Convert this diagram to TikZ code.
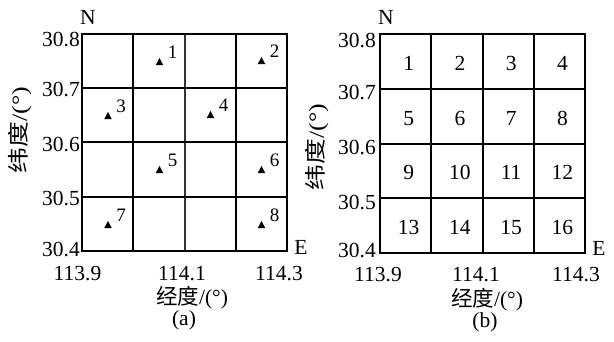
\documentclass[tikz,border=0pt]{standalone}
\usepackage{fontspec}
\setmainfont{Liberation Serif}
\newfontfamily\cjk{Noto Sans CJK SC}
\begin{document}
\begin{tikzpicture}[x=1pt,y=-1pt,
  lbl/.style={font=\fontsize{21.5}{21.5}\selectfont, inner sep=0pt},
  small/.style={font=\fontsize{19}{19}\selectfont, inner sep=0pt},
  gridline/.style={line width=2pt, line cap=rect},
  thinline/.style={line width=1.6pt, black!80},
  tri/.style={fill=black}]
\useasboundingbox (0,0) rectangle (614,341);
% ---------- panel (a) ----------
\foreach \x in {82,133,236,287}
  \draw[gridline] (\x,34) -- (\x,251);
\draw[thinline] (185,34) -- (185,251);
\foreach \y in {34,88,142,197,251}
  \draw[gridline] (82,\y) -- (287,\y);
\foreach \n/\x/\y in {1/159.5/62,2/261.5/61,3/108/116,4/210.5/115,5/159.5/170,6/261.5/170,7/108/225,8/261.5/225}{
  \fill[tri] ({\x-3.8},{\y+3.2}) -- ({\x+3.8},{\y+3.2}) -- (\x,{\y-4}) -- cycle;
  \node[small] (pa\n) at ({\x+13},{\y-10}) {\n};
}
\foreach \t/\y in {30.8/39,30.7/89,30.6/144,30.5/198,30.4/249}
  \node[lbl, anchor=east] (ya\t) at (80,\y) {\t};
\foreach \t/\x in {113.9/77.5,114.1/182,114.3/279}
  \node[lbl] (xa\t) at (\x,274) {\t};
\node[lbl] (Na) at (88,17) {N};
\node[lbl] (Ea) at (301,247) {E};
\node[lbl, rotate=90, xscale=1.2] (laty a) at (20,130) {{\cjk 纬度}/(°)};
\node[lbl] (lonx a) at (192,298) {{\cjk 经度}/(°)};
\node[lbl] (capa) at (184,320) {(a)};
% ---------- panel (b) ----------
\foreach \x in {380,431,483,534,585}
  \draw[gridline] (\x,34) -- (\x,253);
\foreach \y in {34,89,144,198,253}
  \draw[gridline] (380,\y) -- (585,\y);
\foreach \r in {0,...,3}
  \foreach \c in {1,...,4}{
    \pgfmathtruncatemacro{\k}{4*\r+\c}
    \node[lbl] (cb\k) at ({380+51.25*(\c-0.5)+3},{34+54.75*(\r+0.5)+2}) {\k};
  }
\foreach \t/\y in {30.8/40,30.7/92.5,30.6/147.5,30.5/202,30.4/250}
  \node[lbl, anchor=east] (yb\t) at (376,\y) {\t};
\foreach \t/\x in {113.9/378,114.1/476,114.3/576}
  \node[lbl] (xb\t) at (\x,275) {\t};
\node[lbl] (Nb) at (386,17) {N};
\node[lbl] (Eb) at (599,248) {E};
\node[lbl, rotate=90, xscale=1.2] (laty b) at (317,147) {{\cjk 纬度}/(°)};
\node[lbl] (lonx b) at (487,300) {{\cjk 经度}/(°)};
\node[lbl] (capb) at (485,322) {(b)};
\end{tikzpicture}
\end{document}
